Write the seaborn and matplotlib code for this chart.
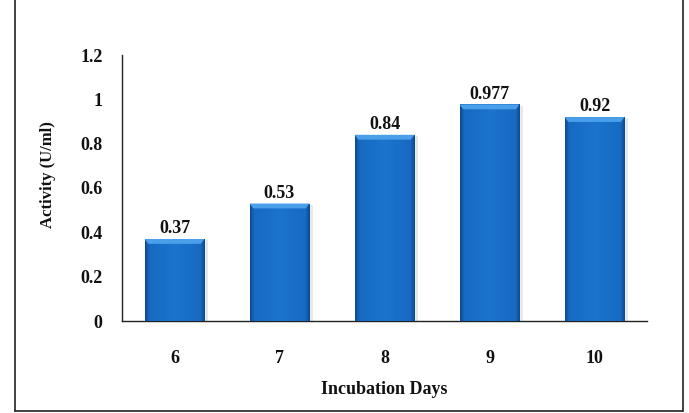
import numpy as np
import pandas as pd
import matplotlib
matplotlib.use("Agg")
import matplotlib.pyplot as plt
from matplotlib.lines import Line2D
from matplotlib.patches import Polygon
from matplotlib.colors import LinearSegmentedColormap
import seaborn as sns

days = ["6", "7", "8", "9", "10"]
activity = [0.37, 0.53, 0.84, 0.977, 0.92]
value_labels = ["0.37", "0.53", "0.84", "0.977", "0.92"]
y_ticks = [0, 0.2, 0.4, 0.6, 0.8, 1.0, 1.2]
y_tick_labels = ["0", "0.2", "0.4", "0.6", "0.8", "1", "1.2"]

df = pd.DataFrame({"day": days, "activity": activity})

sns.set_theme(style="white")
plt.rcParams["font.family"] = ["Liberation Serif", "DejaVu Serif"]

fig = plt.figure(figsize=(6.89, 4.13), dpi=100)
W, H = 689, 413
ax = fig.add_axes([122 / W, 1 - 321 / H, 525 / W, (321 - 55) / H])

sns.barplot(data=df, x="day", y="activity", color="#1a70c8", width=0.57,
            saturation=1, ax=ax, zorder=3)

# bevelled blue fill: flat centre with darker side edges and a light top rim
shade = LinearSegmentedColormap.from_list(
    "bevel", [(0.0, "#0c4a90"), (0.07, "#176ac2"), (0.5, "#1c74cc"),
              (0.93, "#176ac2"), (1.0, "#0c4a90")])
for patch, val, lab in zip(ax.patches, activity, value_labels):
    x0, w = patch.get_x(), patch.get_width()
    # faint shadow to the right
    ax.add_patch(plt.Rectangle((x0 + 0.03, 0), w, val - 0.006,
                               color="#d6d6d6", alpha=0.55, zorder=2, lw=0))
    grad = np.linspace(0, 1, 128).reshape(1, -1)
    im = ax.imshow(grad, cmap=shade, aspect="auto", zorder=4,
                   extent=(x0, x0 + w, 0, val), interpolation="bilinear")
    im.set_clip_path(patch)
    d = 0.022
    rim = Polygon([(x0, val), (x0 + w, val), (x0 + w - 0.035, val - d),
                   (x0 + 0.035, val - d)], closed=True,
                  facecolor="#4a9fea", lw=0, zorder=5)
    ax.add_patch(rim)
    ax.text(x0 + w / 2, val + 0.008, lab, ha="center", va="bottom",
            fontsize=13, fontweight="bold", color="#111111", zorder=6)

ax.set_xlim(-0.5, 4.5)
ax.set_ylim(0, 1.2)
ax.set_yticks(y_ticks)
ax.set_yticklabels(y_tick_labels)
ax.tick_params(axis="both", length=0, labelsize=13)
ax.tick_params(axis="x", pad=21)
ax.tick_params(axis="y", pad=14)
for t in ax.get_xticklabels() + ax.get_yticklabels():
    t.set_fontweight("bold")
    t.set_color("#111111")

ax.set_xlabel("Incubation Days", fontsize=13, fontweight="bold",
              color="#111111", labelpad=10)
ax.set_ylabel("Activity (U/ml)", fontsize=12, fontweight="bold",
              color="#111111")
ax.yaxis.set_label_coords(-66 / 525, (321 - 175) / (321 - 55))

for side in ["top", "right"]:
    ax.spines[side].set_visible(False)
for side in ["left", "bottom"]:
    ax.spines[side].set_color("#222222")
    ax.spines[side].set_linewidth(1.0)

# outer frame on left, right and bottom
frame = dict(color="#222222", lw=1.2, transform=fig.transFigure)
fig.add_artist(Line2D([15 / W, 15 / W], [1 - 411 / H, 1], **frame))
fig.add_artist(Line2D([683 / W, 683 / W], [1 - 411 / H, 1], **frame))
fig.add_artist(Line2D([15 / W, 683 / W], [1 - 411 / H, 1 - 411 / H], **frame))

fig.savefig("out.png", dpi=100)
